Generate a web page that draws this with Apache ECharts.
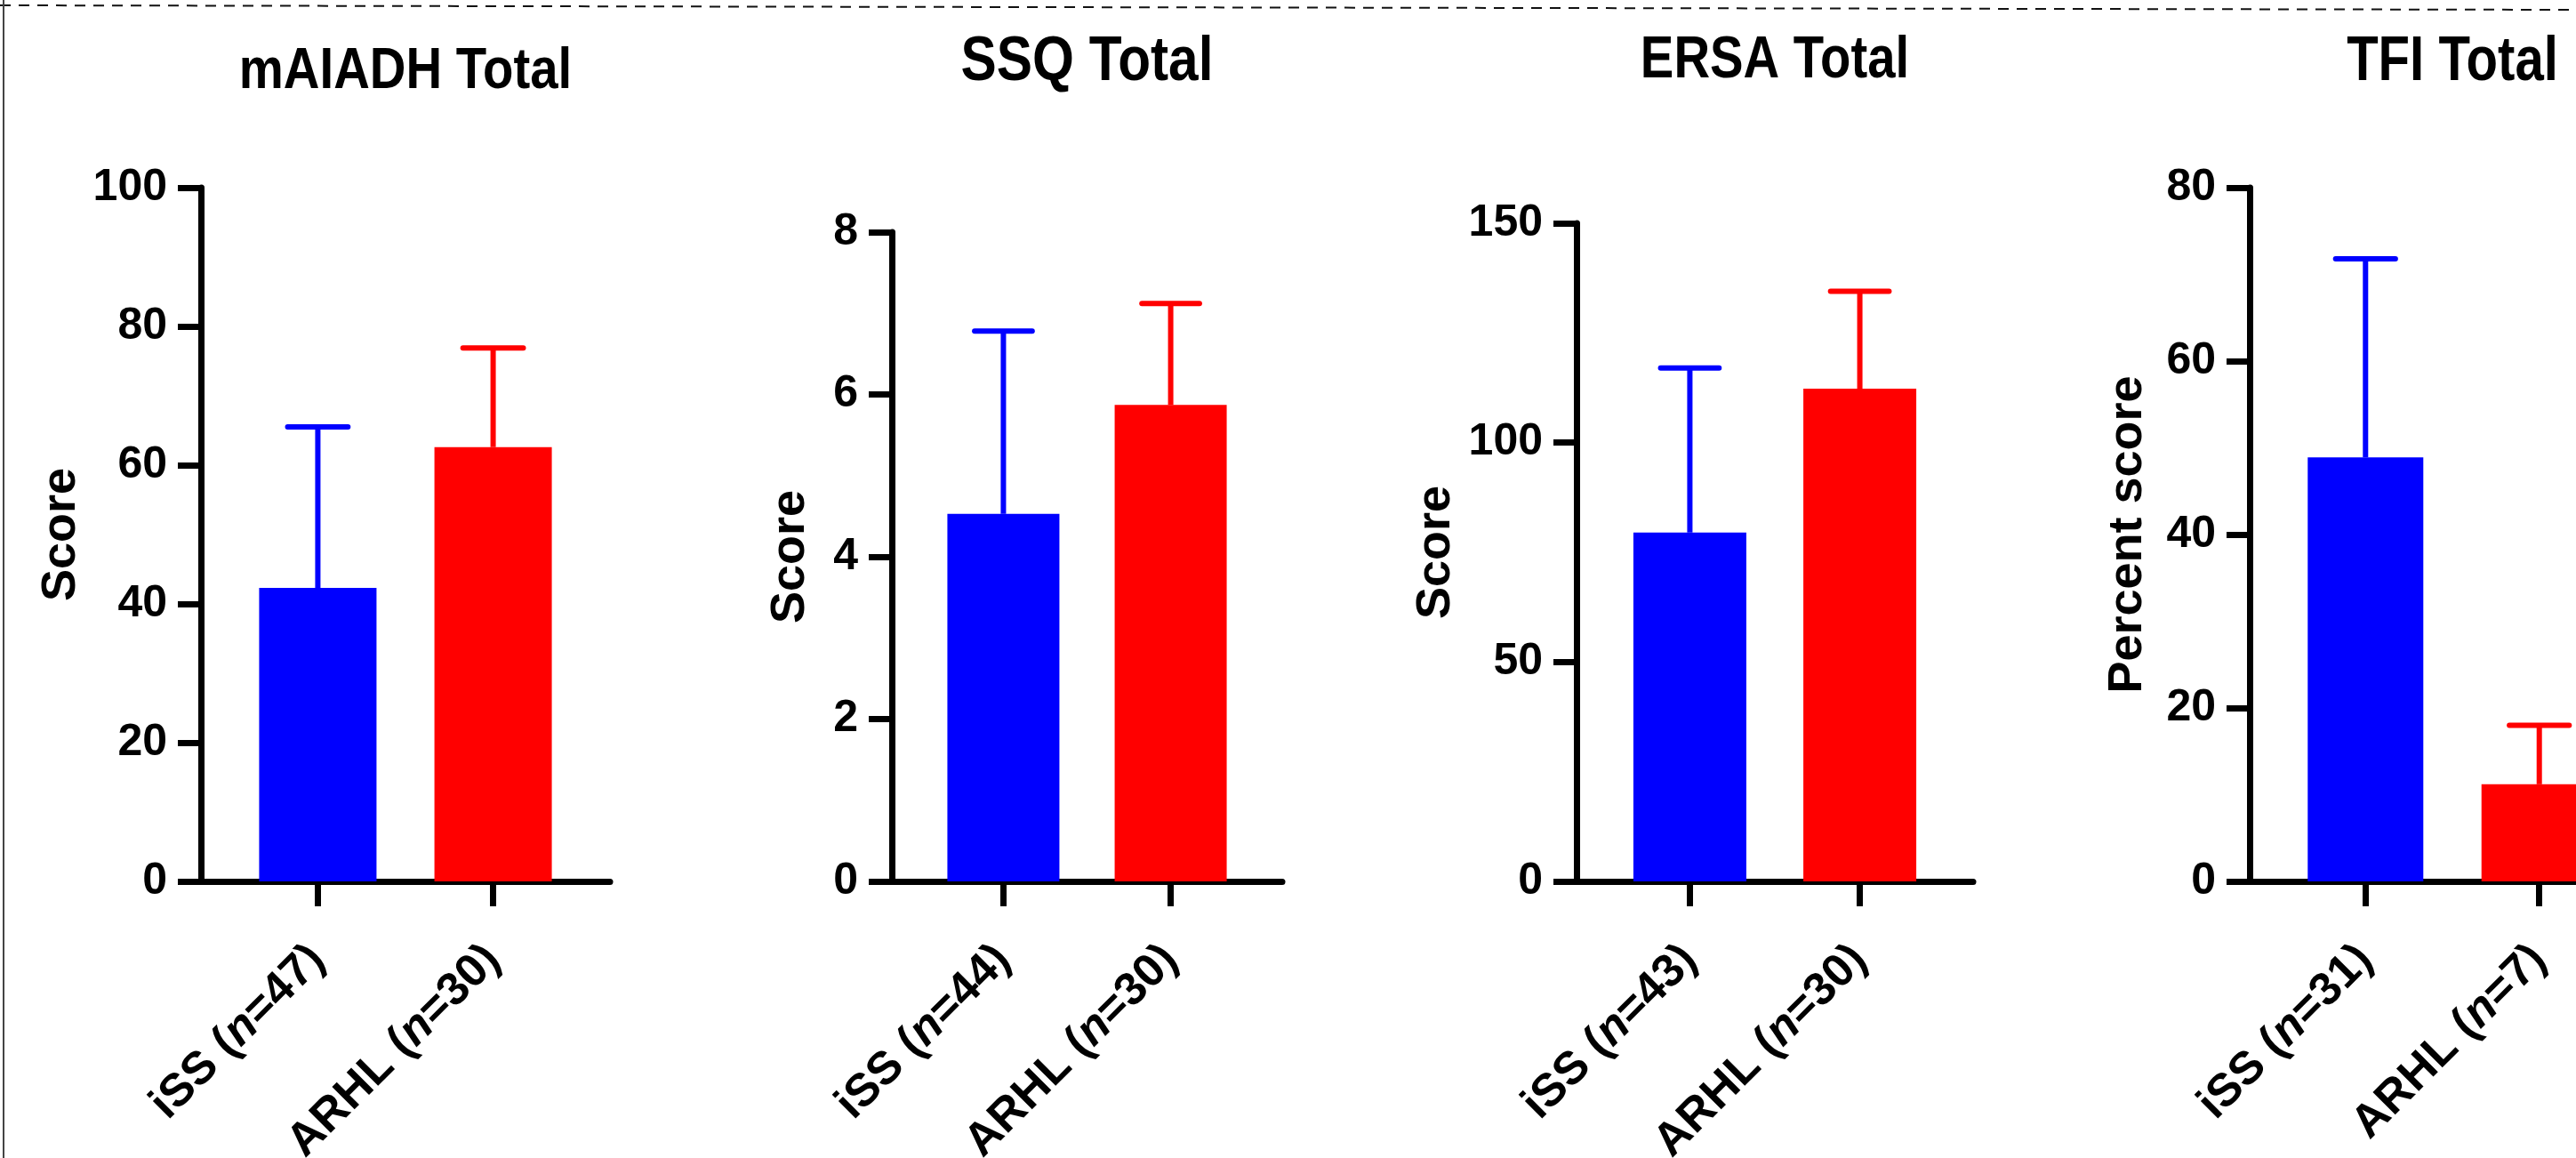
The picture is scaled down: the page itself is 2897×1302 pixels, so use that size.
<!DOCTYPE html>
<html>
<head>
<meta charset="utf-8">
<script src="https://cdn.jsdelivr.net/npm/echarts@6/dist/echarts.min.js"></script>
<style>
html,body{margin:0;padding:0;background:#fff;}
#chart{width:2897px;height:1302px;}
</style>
</head>
<body>
<div id="chart"></div>
<script>
// ---- data ----
const titles = ['mAIADH Total', 'SSQ Total', 'ERSA Total', 'TFI Total'];
const yNames = ['Score', 'Score', 'Score', 'Percent score'];
const labelsISS = ['iSS (n=47)', 'iSS (n=44)', 'iSS (n=43)', 'iSS (n=31)'];
const labelsARHL = ['ARHL (n=30)', 'ARHL (n=30)', 'ARHL (n=30)', 'ARHL (n=7)'];
const meanISS = [42.3, 4.53, 79.5, 48.9];
const meanARHL = [62.6, 5.87, 112.3, 11.2];
const upperISS = [65.5, 6.78, 117.0, 71.8];   // mean + SD
const upperARHL = [76.9, 7.12, 134.5, 18.0];  // mean + SD
const yMax = [100, 8, 150, 80];
const yInterval = [20, 2, 50, 20];

// ---- layout / style ----
const colors = ['#0000ff', '#ff0000'];
const layout = [
  {left: 226, top: 211, width: 460, height: 780, barW: 132, titleY: 81, titleSize: 64, titleScale: 0.88, nameGap: 130},
  {left: 1003, top: 261, width: 439, height: 730, barW: 126, titleY: 70, titleSize: 71, titleScale: 0.85, nameGap: 87},
  {left: 1773, top: 251, width: 446, height: 740, barW: 127, titleY: 69, titleSize: 67, titleScale: 0.84, nameGap: 131},
  {left: 2530, top: 211, width: 456, height: 780, barW: 130, titleY: 71, titleSize: 70, titleScale: 0.83, nameGap: 110}
];
const regular = "'Liberation Sans', Arial, Helvetica, sans-serif";
const XMIN = 1 / 3, XMAX = 8 / 3;

const chart = echarts.init(document.getElementById('chart'), null, {renderer: 'canvas'});

const grid = [], xAxis = [], yAxis = [], series = [];
const graphics = [
  {type: 'line', silent: true, z: 10, shape: {x1: 0, y1: 6, x2: 2897, y2: 11},
   style: {stroke: '#111', lineWidth: 2, lineDash: [12, 9]}},
  {type: 'line', silent: true, z: 10, shape: {x1: 4, y1: 0, x2: 4, y2: 1302},
   style: {stroke: '#444', lineWidth: 2}}
];
layout.forEach((L, i) => {
  grid.push({left: L.left, top: L.top, width: L.width, height: L.height,
             containLabel: false, outerBoundsMode: 'none'});
  graphics.push({
    type: 'text', silent: true, z: 10,
    x: L.left + L.width / 2, y: L.titleY, scaleX: L.titleScale, scaleY: 1,
    style: {
      text: titles[i], x: 0, y: 0, align: 'center', verticalAlign: 'middle',
      font: 'bold ' + L.titleSize + 'px ' + regular, fill: '#000'
    }
  });
  const labs = [labelsISS[i], labelsARHL[i]];
  xAxis.push({
    type: 'value', gridIndex: i, min: XMIN, max: XMAX,
    splitLine: {show: false},
    axisLine: {show: true, onZero: true, lineStyle: {color: '#000', width: 7}},
    axisTick: {show: true, customValues: [1, 2], length: 28, lineStyle: {color: '#000', width: 7}},
    axisLabel: {
      show: true, customValues: [1, 2], rotate: 45, margin: 80,
      formatter: function (v) {
        const s = labs[Math.round(v) - 1] || '';
        const m = s.match(/^(.*\()n(=.*)$/);
        if (!m) return '{a|' + s + '}';
        return '{a|' + m[1] + '}{b|n}{a|' + m[2] + '}';
      },
      rich: {
        a: {fontFamily: regular, fontWeight: 'bold', fontSize: 52, color: '#000'},
        b: {fontFamily: regular, fontWeight: 'bold', fontStyle: 'italic', fontSize: 52, color: '#000'}
      }
    }
  });
  yAxis.push({
    type: 'value', gridIndex: i, min: 0, max: yMax[i], interval: yInterval[i],
    name: yNames[i], nameLocation: 'middle', nameGap: L.nameGap,
    nameTextStyle: {fontFamily: regular, fontWeight: 'bold', fontSize: 54, color: '#000'},
    splitLine: {show: false},
    axisLine: {show: true, lineStyle: {color: '#000', width: 7}},
    axisTick: {show: true, length: 26, lineStyle: {color: '#000', width: 7}},
    axisLabel: {fontFamily: regular, fontWeight: 'bold', fontSize: 50, color: '#000', margin: 38}
  });
  series.push({
    type: 'bar', xAxisIndex: i, yAxisIndex: i, barWidth: L.barW,
    data: [
      {value: [1, meanISS[i]], itemStyle: {color: colors[0]}},
      {value: [2, meanARHL[i]], itemStyle: {color: colors[1]}}
    ],
    z: 2
  });
  series.push({
    type: 'custom', xAxisIndex: i, yAxisIndex: i, z: 3,
    data: [[1, meanISS[i], upperISS[i]], [2, meanARHL[i], upperARHL[i]]],
    renderItem: function (params, api) {
      const x = api.value(0);
      const p0 = api.coord([x, api.value(1)]);
      const p1 = api.coord([x, api.value(2)]);
      const half = api.size([0.172, 0])[0];
      const c = colors[params.dataIndex];
      return {
        type: 'group',
        children: [
          {type: 'line', shape: {x1: p0[0], y1: p0[1], x2: p1[0], y2: p1[1]},
           style: {stroke: c, lineWidth: 6}},
          {type: 'line', shape: {x1: p1[0] - half, y1: p1[1], x2: p1[0] + half, y2: p1[1]},
           style: {stroke: c, lineWidth: 6, lineCap: 'round'}}
        ]
      };
    }
  });
});

chart.setOption({
  animation: false,
  backgroundColor: '#ffffff',
  grid: grid,
  xAxis: xAxis,
  yAxis: yAxis,
  series: series,
  graphic: graphics
});
</script>
</body>
</html>
